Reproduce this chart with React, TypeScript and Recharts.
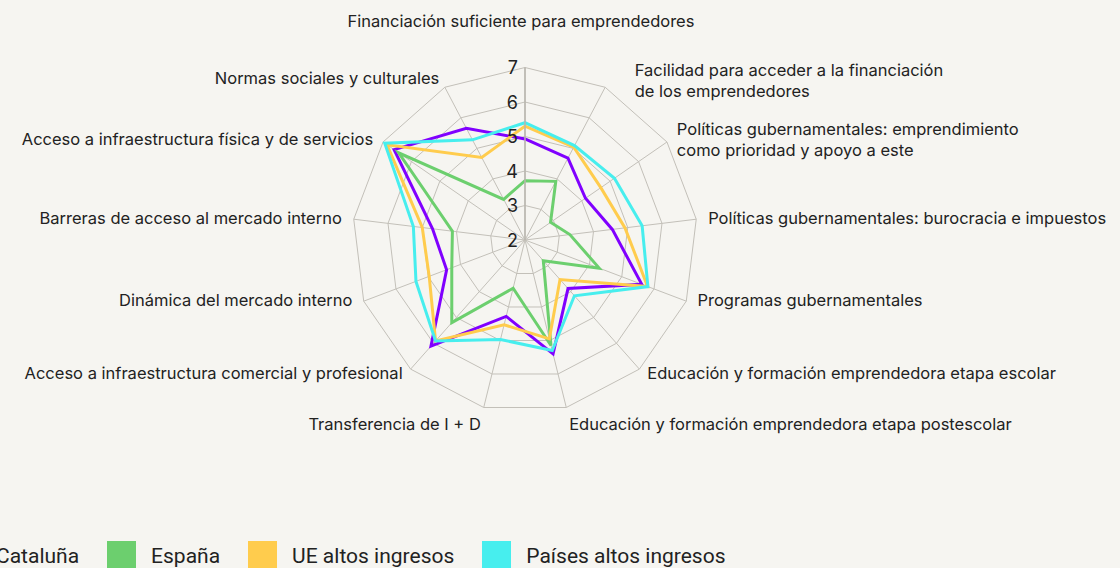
import { Radar, RadarChart, PolarGrid, PolarAngleAxis, PolarRadiusAxis, Legend } from 'recharts'

const categories = [
    'Financiación suficiente para emprendedores',
    'Facilidad para acceder a la financiación\nde los emprendedores',
    'Políticas gubernamentales: emprendimiento\ncomo prioridad y apoyo a este',
    'Políticas gubernamentales: burocracia e impuestos',
    'Programas gubernamentales',
    'Educación y formación emprendedora etapa escolar',
    'Educación y formación emprendedora etapa postescolar',
    'Transferencia de I + D',
    'Acceso a infraestructura comercial y profesional',
    'Dinámica del mercado interno',
    'Barreras de acceso al mercado interno',
    'Acceso a infraestructura física y de servicios',
    'Normas sociales y culturales',
]

const cataluna = [4.93, 4.68, 4.13, 4.55, 5.62, 3.88, 5.4, 4.28, 6.11, 4.43, 4.7, 6.61, 5.66]
const espana = [3.72, 3.92, 2.9, 3.31, 4.3, 2.8, 5.15, 3.44, 5.2, 4.27, 4.12, 6.45, 3.33]
const ueAltos = [5.3, 5.04, 4.67, 4.92, 5.8, 3.53, 4.95, 4.53, 5.91, 4.97, 5.0, 6.86, 4.7]
const paisesAltos = [5.4, 5.09, 5.15, 5.42, 5.81, 4.16, 5.3, 4.97, 5.91, 5.38, 5.26, 6.94, 5.28]

const radiusTicks = [2, 3, 4, 5, 6, 7]

const series = [
    { key: 'cataluna', name: 'Cataluña', color: '#8000ff', values: cataluna },
    { key: 'espana', name: 'España', color: '#6ccf6e', values: espana },
    { key: 'ue', name: 'UE altos ingresos', color: '#ffcc4d', values: ueAltos },
    { key: 'paises', name: 'Países altos ingresos', color: '#47eeee', values: paisesAltos },
]

const data = categories.map((c, i) => {
    const row: Record<string, string | number> = { category: c }
    series.forEach(s => { row[s.key] = s.values[i] })
    return row
})

const CX = 525
const CY = 240
const R = 172.5
const FONT = 'Inter, "Noto Sans", sans-serif'

function AngleTick(props: any) {
    const { payload, index } = props
    const a = (payload.coordinate * Math.PI) / 180
    const cos = Math.cos(a)
    const sin = Math.sin(a)
    let x = CX + (R + 12) * cos
    let y = CY - (R + 12) * sin
    let anchor = 'middle'
    if (cos > 0.1) anchor = 'start'
    else if (cos < -0.1) anchor = 'end'
    // nudge labels vertically a bit, like the original layout
    if (sin > 0.3) y += 4
    else if (sin < -0.9) y += 5
    else if (sin < -0.3) y -= 5
    if (index === 0) { y -= 39; x -= 4 }
    if (index === 1) x += 24
    if (index === 12) y -= 3
    const lines = String(payload.value).split('\n')
    return (
        <text x={x} y={y} textAnchor={anchor} fontFamily={FONT} fontSize={16.5} fill="#222">
            {lines.map((l, i) => (
                <tspan key={i} x={x} y={y + (i - (lines.length - 1) / 2) * 21} dominantBaseline="central">
                    {l}
                </tspan>
            ))}
        </text>
    )
}

function RadiusTick(props: any) {
    const { x, y, payload } = props
    return (
        <text x={x - 7} y={y} textAnchor="end" dominantBaseline="central" fontFamily={FONT} fontSize={18} fill="#222">
            {payload.value}
        </text>
    )
}

function LegendContent() {
    return (
        <div style={{ display: 'flex', alignItems: 'center', fontFamily: 'Roboto, sans-serif', fontSize: 21, color: '#222', whiteSpace: 'nowrap' }}>
            {series.map(s => (
                <div key={s.key} style={{ display: 'flex', alignItems: 'center', marginRight: 28 }}>
                    <div style={{ width: 29, height: 30, background: s.color, marginRight: 15 }} />
                    <span>{s.name}</span>
                </div>
            ))}
        </div>
    )
}

export default function App() {
    return (
        <div style={{ position: 'absolute', left: 0, top: 0, width: 1120, height: 568, background: '#f6f5f1', overflow: 'hidden' }}>
            <RadarChart width={1120} height={568} data={data} cx={CX} cy={CY} outerRadius={R} startAngle={90} endAngle={-270} margin={{ top: 0, right: 0, bottom: 0, left: 0 }}>
                <PolarGrid gridType="polygon" stroke="#c3c0b9" strokeWidth={1} />
                <PolarAngleAxis dataKey="category" tick={AngleTick} tickLine={false} axisLine={false} />
                <PolarRadiusAxis angle={90} domain={[2, 7]} ticks={radiusTicks} tickCount={6} tick={RadiusTick} axisLine={{ stroke: '#b9b6ae', strokeWidth: 1.5 }} tickLine={false} />
                {series.map(s => (
                    <Radar key={s.key} name={s.name} dataKey={s.key} stroke={s.color} strokeWidth={3} fill="none" fillOpacity={0} dot={false} isAnimationActive={false} />
                ))}
                <Legend content={LegendContent} wrapperStyle={{ position: 'absolute', left: -48, top: 541, width: 1000, height: 30 }} />
            </RadarChart>
        </div>
    )
}
